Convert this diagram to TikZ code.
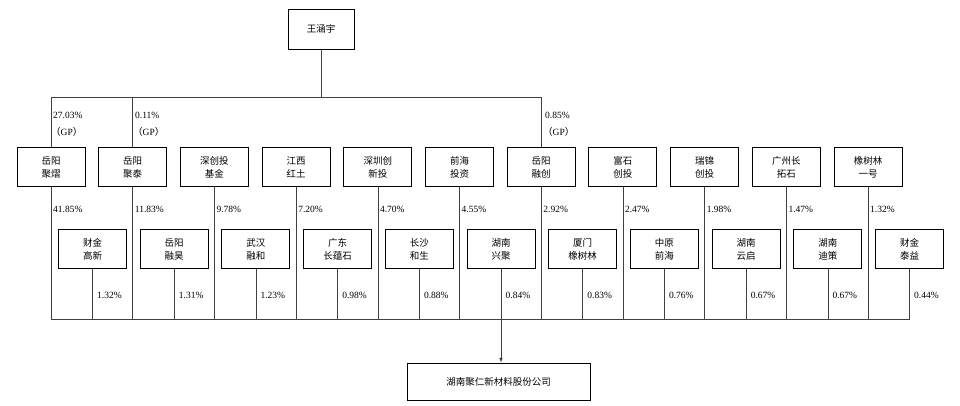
\documentclass[tikz,border=0pt]{standalone}
\usepackage{fontspec}
\setmainfont{Liberation Serif}
\newfontfamily\cjk{Noto Sans CJK SC}
\begin{document}
\begin{tikzpicture}[x=1pt,y=-1pt,
  box/.style={draw,line width=0.9pt,minimum width=68pt,minimum height=39pt,align=center,font=\cjk\fontsize{9.5}{13}\selectfont,inner sep=1pt},
  lab/.style={anchor=west,font=\fontsize{9.5}{11}\selectfont,inner sep=1pt},
  ln/.style={draw=black!75,line width=0.6pt}]
\useasboundingbox (0,0) rectangle (960,406);
\node[box,minimum width=66pt,minimum height=40pt] (top) at (321,29) {王涵宇};
\def\tops{岳阳\\聚熠,岳阳\\聚泰,深创投\\基金,江西\\红土,深圳创\\新投,前海\\投资,岳阳\\融创,富石\\创投,瑞锦\\创投,广州长\\拓石,橡树林\\一号}
\def\bots{财金\\高新,岳阳\\融昊,武汉\\融和,广东\\长蕴石,长沙\\和生,湖南\\兴聚,厦门\\橡树林,中原\\前海,湖南\\云启,湖南\\迪策,财金\\泰益}
\def\tp{41.85\%,11.83\%,9.78\%,7.20\%,4.70\%,4.55\%,2.92\%,2.47\%,1.98\%,1.47\%,1.32\%}
\def\bp{1.32\%,1.31\%,1.23\%,0.98\%,0.88\%,0.84\%,0.83\%,0.76\%,0.67\%,0.67\%,0.44\%}
\foreach \t [count=\i from 0] in \tops {
  \node[box] (t\i) at ({51+81.7*\i},167) {\t};}
\foreach \t [count=\i from 0] in \bots {
  \node[box] (b\i) at ({92.5+81.7*\i},249) {\t};}
\foreach \t [count=\i from 0] in \tp {
  \node[lab] at ({52+81.7*\i},209) {\t};}
\foreach \t [count=\i from 0] in \bp {
  \node[lab] at ({96+81.7*\i},295) {\t};}
\foreach \i in {0,...,10} {
  \draw[ln] (t\i.south) -- (t\i.south |- 0,319);
  \draw[ln] (b\i.south) -- (b\i.south |- 0,319);}
\draw[ln] (t0.south |- 0,319) coordinate (busL) -- (b10.south |- 0,319) coordinate (busR);
\coordinate (tj) at (top.south |- 0,97);
\draw[ln] (top.south) -- (tj);
\draw[ln] (t0.north) -- (t0.north |- 0,97) -- (t6.north |- 0,97) -- (t6.north);
\draw[ln] (t1.north) -- (t1.north |- 0,97);
\node[lab] at (52,115) {27.03\%};
\node[lab] at (50,132) {{\cjk （}GP{\cjk ）}};
\node[lab] at (134,115) {0.11\%};
\node[lab] at (132,132) {{\cjk （}GP{\cjk ）}};
\node[lab] at (544,115) {0.85\%};
\node[lab] at (542,132) {{\cjk （}GP{\cjk ）}};
\node[box,minimum width=183pt,minimum height=37pt] (co) at (498.5,381.5) {湖南聚仁新材料股份公司};
\draw[ln,-latex] (b5.south |- 0,319) -- (b5.south |- co.north);
\end{tikzpicture}
\end{document}
